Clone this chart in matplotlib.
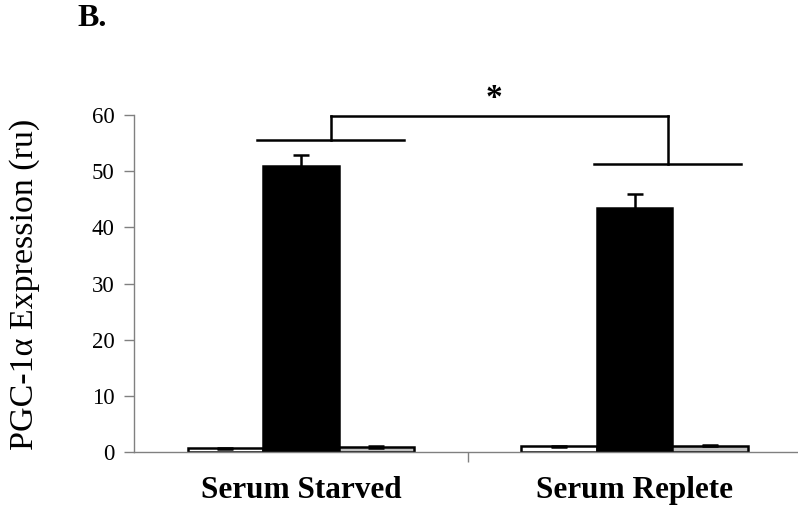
import matplotlib.pyplot as plt
import numpy as np

categories = ['Serum Starved', 'Serum Replete']
white_vals = [0.7, 1.0]
white_err = [0.1, 0.1]
black_vals = [50.9, 43.4]
black_err = [1.9, 2.6]
gray_vals = [0.9, 1.1]
gray_err = [0.1, 0.1]

# significance bracket levels
left_line = 55.5
right_line = 51.2
bracket_top = 59.8

plt.rcParams['font.family'] = ['Liberation Serif', 'DejaVu Serif']

fig = plt.figure(figsize=(7.98, 5.07), dpi=100)
ax = fig.add_axes([134/798, 1-452/507, 1-134/798, (452-115)/507])

x = np.arange(len(categories))
w = 0.226
ekw = dict(elinewidth=1.8, capthick=1.8, ecolor='black')
ax.bar(x - w, white_vals, w, yerr=white_err, capsize=6, color='white',
       edgecolor='black', linewidth=1.8, error_kw=ekw, zorder=2)
ax.bar(x, black_vals, w, yerr=black_err, capsize=6, color='black',
       edgecolor='black', linewidth=1.8, error_kw=ekw, zorder=2)
ax.bar(x + w, gray_vals, w, yerr=gray_err, capsize=6, color='#c0c0c0',
       edgecolor='black', linewidth=1.8, error_kw=ekw, zorder=2)

ax.set_xlim(-0.5, 1.49)
ax.set_ylim(0, 60)
ax.set_yticks(np.arange(0, 61, 10))
ax.set_xticks([0.5])
ax.set_xticklabels([''])
ax.tick_params(axis='x', direction='out', length=7, color='#808080', width=1)
ax.tick_params(axis='y', direction='out', length=7, color='#808080', width=1,
               labelsize=16.5, pad=7)
for lab, xi in zip(categories, x):
    ax.text(xi, -8.2, lab, ha='center', va='baseline', fontsize=22.5,
            fontweight='bold')

for s in ['top', 'right']:
    ax.spines[s].set_visible(False)
for s in ['left', 'bottom']:
    ax.spines[s].set_color('#808080')
    ax.spines[s].set_linewidth(1)

fig.text(25/798, 1-284/507, 'PGC-1α Expression (ru)', fontsize=24.5,
         rotation=90, ha='center', va='center')

# bracket
lw = 1.8
ax.plot([-0.13, 0.31], [left_line, left_line], color='black', lw=lw, clip_on=False)
ax.plot([0.09, 0.09], [left_line, bracket_top], color='black', lw=lw, clip_on=False)
ax.plot([0.09, 1.1], [bracket_top, bracket_top], color='black', lw=lw, clip_on=False)
ax.plot([1.1, 1.1], [bracket_top, right_line], color='black', lw=lw, clip_on=False)
ax.plot([0.88, 1.32], [right_line, right_line], color='black', lw=lw, clip_on=False)
ax.text(0.58, 63.0, '*', ha='center', va='center', fontsize=24,
        fontweight='bold', clip_on=False)

fig.text(77/798, 1-19/507, 'B.', fontsize=23, fontweight='bold', va='center', ha='left')

fig.savefig('out.png', dpi=100)
